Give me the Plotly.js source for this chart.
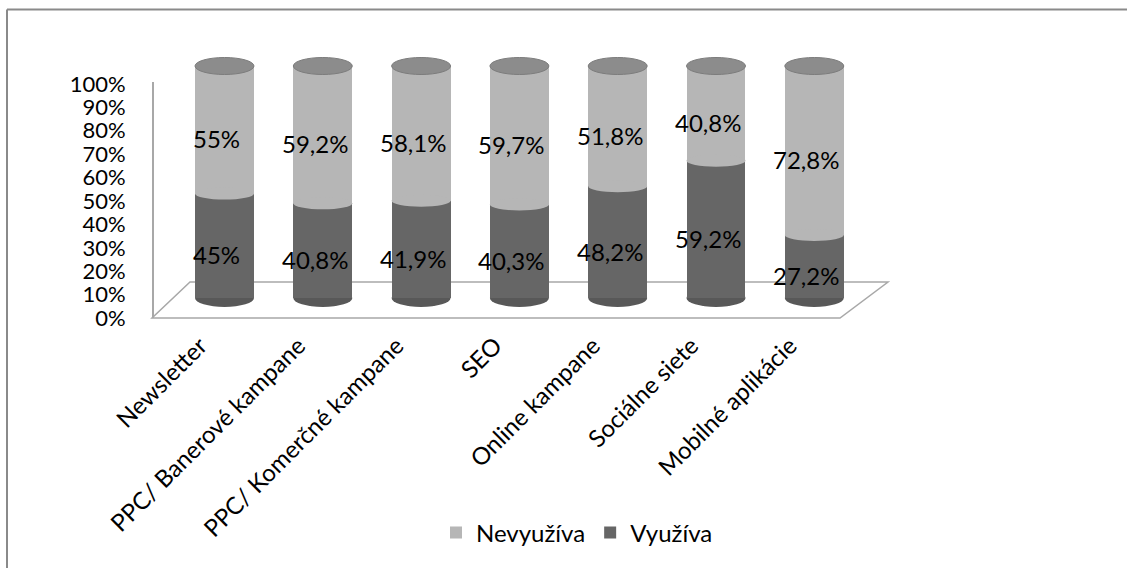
<!DOCTYPE html>
<html>
<head>
<meta charset="utf-8">
<script src="https://cdn.plot.ly/plotly-3.0.1.min.js"></script>
<style>html,body{margin:0;padding:0;background:#fff;}#chart{width:1127px;height:568px;}</style>
</head>
<body>
<div id="chart"></div>
<script>
// ---- data ----
const categories = ["Newsletter", "PPC/ Banerové kampane", "PPC/ Komerčné kampane", "SEO", "Online kampane", "Sociálne siete", "Mobilné aplikácie"];
const vyuziva   = [45, 40.8, 41.9, 40.3, 48.2, 59.2, 27.2];
const nevyuziva = [55, 59.2, 58.1, 59.7, 51.8, 40.8, 72.8];
const seriesNames = ["Využíva", "Nevyužíva"];
const yTickVals = [0, 10, 20, 30, 40, 50, 60, 70, 80, 90, 100];

// ---- styling ----
const W = 1127, H = 568;
const X = px => px / W;
const Y = py => 1 - py / H;
const FONT = "Lato, 'Open Sans', sans-serif";
const LIGHT = "#b6b6b6", DARK = "#666666", CAP = "#8c8c8c", DARKCAP = "#585858";
const HALF = 0.3; // half bar width in category units
const fmt = v => String(v).replace('.', ',') + '%';
// pixel mapping of the bar value axis: 0 -> 298px, 100 -> 66px
const PPU = (298 - 66) / 100;
const PAD = 6;

const idx = categories.map((_, i) => i);

const traces = [
  {type: 'bar', name: seriesNames[0], x: idx, y: vyuziva, xaxis: 'x', yaxis: 'y',
   marker: {color: DARK}, hoverinfo: 'skip'},
  {type: 'bar', name: seriesNames[1], x: idx, y: nevyuziva, xaxis: 'x', yaxis: 'y',
   marker: {color: LIGHT}, hoverinfo: 'skip'},
  {type: 'scatter', x: [], y: [], xaxis: 'x2', yaxis: 'y2', showlegend: false, hoverinfo: 'skip'}
];

const shapes = [];
// chart frame (left and top edges)
shapes.push({type: 'line', xref: 'paper', yref: 'paper', x0: X(7), x1: X(7), y0: Y(9.5), y1: Y(600), line: {color: '#8a8a8a', width: 2}, layer: 'below'});
shapes.push({type: 'line', xref: 'paper', yref: 'paper', x0: X(7), x1: X(1200), y0: Y(9.5), y1: Y(9.5), line: {color: '#8a8a8a', width: 2}, layer: 'below'});
// 3D floor
shapes.push({type: 'path', xref: 'paper', yref: 'paper',
  path: `M ${X(152)} ${Y(318)} L ${X(840)} ${Y(318)} L ${X(888)} ${Y(282)} L ${X(190)} ${Y(282)} Z`,
  line: {color: '#a8a8a8', width: 1.5}, fillcolor: 'rgba(0,0,0,0)', layer: 'below'});

// cylinder caps derived from data
idx.forEach(i => {
  const total = vyuziva[i] + nevyuziva[i];
  shapes.push({type: 'circle', xref: 'x', yref: 'y', x0: i - HALF, x1: i + HALF,
    ysizemode: 'pixel', yanchor: 0, y0: -9, y1: 9,
    fillcolor: DARKCAP, line: {width: 0}, layer: 'below'});
  shapes.push({type: 'circle', xref: 'x', yref: 'y', x0: i - HALF, x1: i + HALF,
    ysizemode: 'pixel', yanchor: vyuziva[i], y0: -6, y1: 6,
    fillcolor: LIGHT, line: {width: 0}, layer: 'above'});
  shapes.push({type: 'circle', xref: 'x', yref: 'y', x0: i - HALF, x1: i + HALF,
    ysizemode: 'pixel', yanchor: total, y0: -8.5, y1: 8.5,
    fillcolor: CAP, line: {color: '#7c7c7c', width: 1}, layer: 'above'});
});

const annotations = [];
idx.forEach(i => {
  annotations.push({xref: 'x', yref: 'y', x: i, y: vyuziva[i] / 2, text: fmt(vyuziva[i]),
    showarrow: false, xshift: -8, yshift: -9, font: {family: FONT, size: 24, color: '#000'}});
  annotations.push({xref: 'x', yref: 'y', x: i, y: vyuziva[i] + nevyuziva[i] / 2, text: fmt(nevyuziva[i]),
    showarrow: false, xshift: -8, yshift: -9, font: {family: FONT, size: 24, color: '#000'}});
});

const layout = {
  width: W, height: H,
  margin: {l: 0, r: 0, t: 0, b: 0},
  paper_bgcolor: '#ffffff', plot_bgcolor: 'rgba(0,0,0,0)',
  font: {family: FONT, size: 22, color: '#000'},
  barmode: 'stack', bargap: 0.4,
  showlegend: true,
  legend: {orientation: 'h', x: X(577), y: Y(533), xanchor: 'center', yanchor: 'middle',
    traceorder: 'reversed', font: {family: FONT, size: 24, color: '#000'}, itemwidth: 30},
  xaxis: {domain: [X(175.35), X(863.45)], range: [-0.5, 6.5], showticklabels: false,
    showgrid: false, zeroline: false, showline: false, ticks: '', anchor: 'y', fixedrange: true},
  yaxis: {domain: [Y(298 + PAD * PPU), Y(66 - PAD * PPU)], range: [-PAD, 100 + PAD], showticklabels: false,
    showgrid: false, zeroline: false, showline: false, ticks: '', anchor: 'x', fixedrange: true},
  xaxis2: {domain: [X(151), X(839)], range: [-0.5, 6.5], tickmode: 'array', tickvals: idx, ticktext: categories,
    tickangle: -45, showgrid: false, zeroline: false, showline: false, ticks: '',
    anchor: 'free', position: Y(326), fixedrange: true, tickfont: {family: FONT, size: 24, color: '#000'}},
  yaxis2: {domain: [Y(318), Y(82)], range: [0, 100.85], tickmode: 'array', tickvals: yTickVals,
    ticktext: yTickVals.map(v => v + '%'), showgrid: false, zeroline: false,
    showline: true, linecolor: '#a8a8a8', linewidth: 1.5, ticks: '', ticklabelstandoff: 22,
    anchor: 'free', position: X(152), side: 'left', fixedrange: true,
    tickfont: {family: FONT, size: 22, color: '#000'}},
  shapes: shapes,
  annotations: annotations
};

Plotly.newPlot('chart', traces, layout, {staticPlot: true, displayModeBar: false});
</script>
</body>
</html>
